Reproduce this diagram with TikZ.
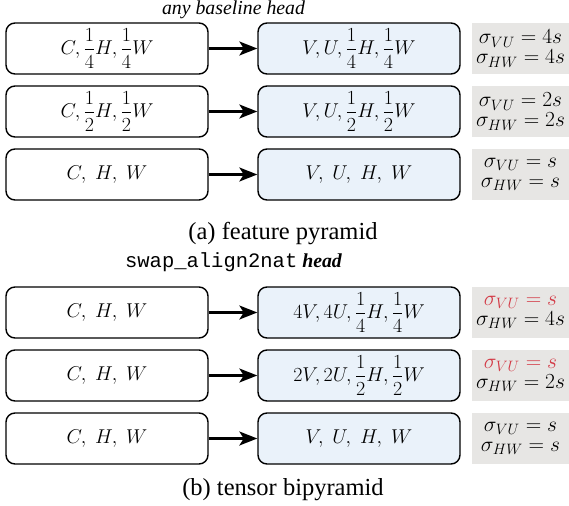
\RequirePackage{fix-cm}
\documentclass[tikz,border=0pt]{standalone}
\usepackage{amsmath}
\usepackage{fontspec}
\setmainfont{Liberation Serif}
\setmonofont{Liberation Mono}
\usetikzlibrary{arrows.meta}
\definecolor{boxblue}{HTML}{EAF2FA}
\definecolor{boxgray}{HTML}{E7E6E4}
\definecolor{sigred}{HTML}{D33A46}
\tikzset{
  base/.style={draw=black, line width=1.4pt, rounded corners=9pt, minimum width=202pt, minimum height=51pt, inner sep=0pt, font=\fontsize{20}{24}\selectfont},
  inbox/.style={base, fill=white},
  outbox/.style={base, fill=boxblue},
  sigbox/.style={fill=boxgray, minimum width=97pt, minimum height=51pt, inner sep=0pt, align=center, font=\fontsize{21.5}{22}\selectfont},
  arrhead/.tip={Stealth[length=18pt 0 0,width=14pt 0 0,inset=4.5pt]},
  arr/.style={line width=2.2pt, -arrhead},
  caption/.style={anchor=base, font=\fontsize{24.5}{28}\selectfont},
  headtitle/.style={anchor=base, font=\fontsize{19.8}{24}\selectfont}
}
\begin{document}
\begin{tikzpicture}
\useasboundingbox (0pt,0pt) rectangle (569pt,-505pt);
\begin{scope}[x=1pt, y=-1pt]
% top
\node[headtitle] (t1) at (233.5,15) {\itshape any baseline head};
\node[inbox] (a1) at (107,48.5) {$C,\dfrac{1}{4}H,\dfrac{1}{4}W$};
\node[outbox] (b1) at (359,48.5) {$V,U,\dfrac{1}{4}H,\dfrac{1}{4}W$};
\node[sigbox] (s1) at (520.5,48.5) {$\sigma_{VU}=4s$\\[-2pt]$\sigma_{HW}=4s$};
\node[inbox] (a2) at (107,111.5) {$C,\dfrac{1}{2}H,\dfrac{1}{2}W$};
\node[outbox] (b2) at (359,111.5) {$V,U,\dfrac{1}{2}H,\dfrac{1}{2}W$};
\node[sigbox] (s2) at (520.5,111.5) {$\sigma_{VU}=2s$\\[-2pt]$\sigma_{HW}=2s$};
\node[inbox] (a3) at (107,174.5) {$C,\;H,\;W$};
\node[outbox] (b3) at (359,174.5) {$V,\;U,\;H,\;W$};
\node[sigbox] (s3) at (520.5,174.5) {$\sigma_{VU}=s$\\[-2pt]$\sigma_{HW}=s$};
\node[caption] (c1) at (283,239) {(a) feature pyramid};
% bottom
\node[headtitle] (t2) at (233.5,267) {{\ttfamily\fontsize{20.5}{24}\selectfont swap\_align2nat} \bfseries\itshape head};
\node[inbox] (a4) at (107,312.5) {$C,\;H,\;W$};
\node[outbox] (b4) at (359,312.5) {$4V,4U,\dfrac{1}{4}H,\dfrac{1}{4}W$};
\node[sigbox] (s4) at (520.5,312.5) {$\color{sigred}\sigma_{VU}=s$\\[-2pt]$\sigma_{HW}=4s$};
\node[inbox] (a5) at (107,375.5) {$C,\;H,\;W$};
\node[outbox] (b5) at (359,375.5) {$2V,2U,\dfrac{1}{2}H,\dfrac{1}{2}W$};
\node[sigbox] (s5) at (520.5,375.5) {$\color{sigred}\sigma_{VU}=s$\\[-2pt]$\sigma_{HW}=2s$};
\node[inbox] (a6) at (107,438.5) {$C,\;H,\;W$};
\node[outbox] (b6) at (359,438.5) {$V,\;U,\;H,\;W$};
\node[sigbox] (s6) at (520.5,438.5) {$\sigma_{VU}=s$\\[-2pt]$\sigma_{HW}=s$};
\node[caption] (c2) at (283,495) {(b) tensor bipyramid};
\end{scope}
\draw[arr] (a1) -- (b1);
\draw[arr] (a2) -- (b2);
\draw[arr] (a3) -- (b3);
\draw[arr] (a4) -- (b4);
\draw[arr] (a5) -- (b5);
\draw[arr] (a6) -- (b6);
\end{tikzpicture}
\end{document}
